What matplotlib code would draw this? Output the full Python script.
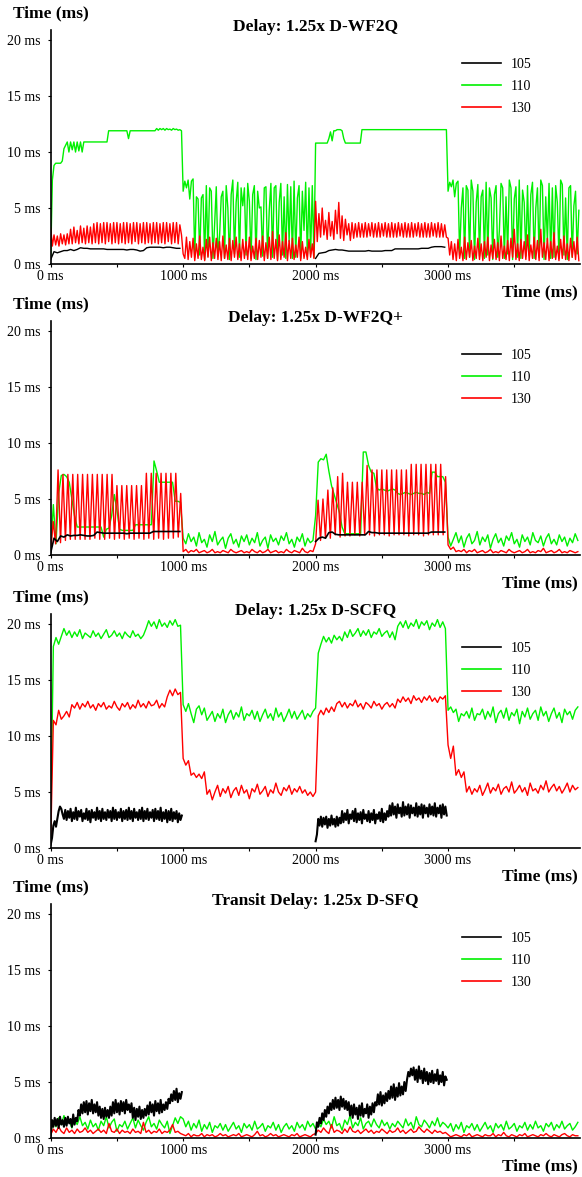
import numpy as np
import matplotlib
matplotlib.use("Agg")
import matplotlib.pyplot as plt

# ---- data: delay (ms) per flow, one list per 1000 ms block (None = flow idle)
flows = ["105", "110", "130"]
titles = ["Delay: 1.25x D-WF2Q", "Delay: 1.25x D-WF2Q+",
          "Delay: 1.25x D-SCFQ", "Transit Delay: 1.25x D-SFQ"]
xticks = [0, 1000, 2000, 3000]
xminor = [500, 1500, 2500, 3500]
yticks = [0, 5, 10, 15, 20]

# D-WF2Q
wf2q_105 = [
    [0.4, 1.1, 1.0, 1.1, 1.2, 1.2, 1.3, 1.2, 1.3, 1.45, 1.4, 1.4, 1.35, 1.35, 1.35, 1.35, 1.35, 1.3, 1.3, 1.3,
     1.3, 1.3, 1.3, 1.25, 1.3, 1.3, 1.25, 1.15, 1.2, 1.45, 1.5, 1.5, 1.5, 1.5, 1.45, 1.5, 1.5, 1.45, 1.4, 1.4],
    None,
    [0.5, 0.95, 1.0, 1.05, 1.2, 1.25, 1.3, 1.25, 1.25, 1.2, 1.15, 1.15, 1.15, 1.15, 1.15, 1.15, 1.2, 1.15, 1.15, 1.15,
     1.15, 1.2, 1.2, 1.2, 1.35, 1.35, 1.35, 1.35, 1.35, 1.35, 1.35, 1.35, 1.4, 1.4, 1.4, 1.5, 1.55, 1.55, 1.55, 1.5],
    None,
]
wf2q_110 = [
    [0.5, 7.5, 8.8, 9.0, 9.0, 9.0, 9.0, 9.2,
     10.3, 10.6, 10.9, 10.0, 10.9, 10.2, 10.9, 10.0, 10.9, 10.1, 10.9, 10.0, 10.9]
    + [10.9] * 14 + [11.9] * 12 + [11.2] + [11.9] * 16
    + [12.1, 11.95, 12.1, 12.0, 12.1, 11.95, 12.1, 12.0, 12.05, 11.95, 12.1, 12.0, 12.05, 11.95, 12.0, 11.9],
    [6.5, 7.4, 6.8, 7.5, 5.8, 7.4, 7.6, 0.6, 6.0, 5.8, 0.8, 5.9, 6.2, 0.4, 7.0, 0.7, 6.8, 6.5, 0.5, 3.5,
     6.9, 0.8, 2.5, 6.0, 6.5, 0.5, 7.0, 5.0, 0.4, 6.2, 7.5, 0.9, 5.5, 7.3, 0.6, 6.8, 5.2, 6.8, 0.8, 7.2,
     5.6, 0.5, 6.2, 7.0, 0.4, 6.5, 5.0, 5.1, 0.7, 6.8, 6.9, 0.5, 4.8, 7.2, 0.6, 6.8, 7.0, 0.4, 5.5, 7.2,
     0.8, 6.0, 0.5, 7.1, 2.0, 6.9, 0.5, 7.4, 0.6, 5.9, 7.0, 0.5, 6.5, 3.0, 7.3, 0.7, 6.8, 0.9, 7.0, 0.6],
    [10.8] * 8 + [11.2, 11.8, 11.0, 11.9] + [11.9, 12.0, 12.0, 12.0, 11.9, 11.2] + [10.8] * 10 + [12.0] * 52,
    [6.5, 7.3, 6.9, 7.5, 6.0, 7.2, 7.4, 0.8, 5.0, 6.8, 0.5, 7.0, 6.6, 0.6, 7.5, 6.5, 0.4, 5.5, 7.1, 0.7,
     6.0, 6.6, 0.5, 7.3, 0.8, 6.8, 5.9, 0.4, 6.2, 7.0, 0.6, 3.0, 7.2, 6.8, 0.5, 6.0, 0.9, 7.5, 6.8, 0.4,
     5.8, 6.9, 0.6, 7.5, 0.5, 6.6, 5.5, 0.7, 7.0, 0.8, 6.2, 7.3, 0.5, 5.0, 6.8, 0.6, 7.5, 7.0, 0.4, 6.0,
     2.0, 7.2, 0.5, 6.8, 0.6, 7.0, 5.5, 0.5, 7.5, 7.1, 0.8, 5.9, 0.4, 6.8, 7.0, 0.6, 5.2, 6.5, 0.9, 4.8],
]
wf2q_130 = [
    [3.2, 1.6, 2.6, 1.7, 2.5, 1.6, 2.7, 1.8, 2.6, 1.7, 2.7, 1.8, 3.1, 1.8, 3.3, 1.9, 3.0, 1.8, 3.4, 1.9,
     3.2, 1.8, 3.4, 1.9, 3.3, 1.8, 3.6, 1.9, 3.7, 1.8, 3.6, 1.9, 3.7, 1.8, 3.7, 2.0, 3.6, 1.8, 3.7, 1.9,
     3.7, 1.8, 3.6, 1.9, 3.7, 1.8, 3.7, 1.9, 3.6, 1.8, 3.7, 2.0, 3.7, 1.8, 3.6, 1.9, 3.7, 1.8, 3.7, 1.9,
     3.6, 1.8, 3.7, 1.9, 3.7, 1.8, 3.6, 1.9, 3.7, 1.8, 3.7, 2.0, 3.6, 1.8, 3.7, 1.9, 3.7, 1.8, 3.5, 2.6],
    [0.9, 0.5, 2.4, 0.4, 2.0, 0.6, 2.3, 0.3, 1.8, 0.5, 2.5, 0.4, 1.5, 0.3, 2.2, 0.6, 2.4, 0.3, 1.9, 0.5,
     2.3, 0.4, 2.0, 0.3, 2.5, 0.5, 1.7, 0.4, 2.3, 0.3, 2.1, 0.6, 2.4, 0.4, 1.8, 0.3, 2.2, 0.5, 2.0, 0.4,
     2.4, 0.3, 1.6, 0.5, 2.3, 0.4, 2.1, 0.6, 2.5, 0.3, 1.9, 0.5, 2.4, 0.4, 2.9, 0.5, 2.2, 0.3, 2.6, 0.4,
     2.0, 0.6, 2.8, 0.3, 2.1, 0.5, 2.3, 0.4, 1.7, 0.6, 2.4, 0.3, 2.0, 0.5, 1.5, 0.4, 2.2, 0.6, 1.8, 0.5],
    [5.6, 2.0, 4.5, 2.4, 5.0, 2.6, 3.9, 2.2, 4.6, 2.5, 3.8, 2.2, 4.8, 2.7, 5.5, 2.3, 4.3, 2.1, 4.0, 2.6,
     3.6, 2.1, 3.7, 2.3, 3.6, 2.4, 3.7, 2.4, 3.6, 2.4, 3.7, 2.4, 3.6, 2.5, 3.7, 2.4, 3.6, 2.4, 3.7, 2.4,
     3.6, 2.5, 3.7, 2.4, 3.6, 2.4, 3.7, 2.4, 3.6, 2.4, 3.7, 2.5, 3.6, 2.4, 3.7, 2.4, 3.6, 2.4, 3.7, 2.4,
     3.6, 2.5, 3.7, 2.4, 3.6, 2.4, 3.7, 2.4, 3.6, 2.4, 3.7, 2.5, 3.6, 2.4, 3.7, 2.4, 3.6, 2.4, 3.5, 2.4],
    [2.3, 0.8, 2.0, 0.4, 1.8, 0.3, 2.2, 0.5, 1.5, 0.3, 2.4, 0.4, 1.9, 0.6, 2.1, 0.3, 1.6, 0.5, 2.3, 0.4,
     1.8, 0.3, 2.0, 0.6, 2.4, 0.3, 1.7, 0.5, 2.2, 0.4, 1.9, 0.3, 2.5, 0.5, 1.6, 0.4, 2.1, 0.3, 2.3, 0.6,
     3.1, 0.4, 1.8, 0.3, 2.2, 0.5, 2.0, 0.4, 2.6, 0.3, 1.7, 0.5, 2.4, 0.4, 2.1, 0.3, 3.1, 0.6, 1.9, 0.4,
     2.3, 0.3, 2.0, 0.5, 2.8, 0.4, 1.6, 0.3, 2.2, 0.5, 2.5, 0.4, 1.8, 0.3, 2.3, 0.6, 2.0, 0.4, 2.4, 0.3],
]

# D-WF2Q+
wf2qp_105 = [
    [0.2, 1.5, 1.2, 1.7, 1.6, 1.8, 1.7, 1.75, 1.75, 1.8, 1.75, 1.7, 1.7, 1.75, 2.05, 2.0, 1.95, 1.95, 1.95, 1.95,
     1.95, 1.95, 1.95, 1.9, 1.95, 1.95, 1.95, 1.95, 1.95, 1.95, 1.95, 2.1, 2.1, 2.1, 2.1, 2.1, 2.1, 2.1, 2.1, 2.1],
    None,
    [1.2, 1.5, 1.6, 1.5, 2.0, 2.05, 1.85, 1.8, 1.8, 1.8, 1.8, 1.8, 1.8, 1.8, 1.8, 1.8, 2.1, 2.0, 2.0, 1.95,
     1.95, 1.95, 1.95, 1.95, 1.95, 1.95, 1.95, 1.95, 1.95, 1.95, 1.95, 1.95, 1.95, 1.95, 1.95, 2.05, 2.05, 2.05, 2.05, 2.05],
    None,
]
wf2qp_110 = [
    [0.5, 4.5, 1.0, 5.5, 7.1, 7.2, 7.0, 6.5, 5.0, 3.5, 2.5] + [2.5] * 9
    + [1.6, 2.3, 2.4, 3.5, 5.4, 4.0, 2.3] + [2.2] * 5 + [2.7] * 7
    + [8.4, 7.5] + [6.5] * 6 + [4.8, 4.8, 4.7],
    [1.5, 1.0, 1.9, 1.2, 1.6, 0.8, 2.0, 1.1, 1.4, 0.7, 1.8, 1.2, 2.1, 0.9, 1.3, 1.6, 0.6, 1.5, 1.9, 1.0,
     1.4, 0.7, 1.7, 1.2, 1.8, 0.9, 1.5, 1.1, 2.0, 0.8, 1.3, 1.6, 0.6, 1.8, 1.2, 1.5, 0.9, 1.7, 1.3, 2.0,
     1.0, 1.4, 0.7, 1.6, 1.2, 1.9, 0.8, 1.5, 1.1, 1.3],
    [3.5, 8.3, 8.6, 8.5, 9.0, 7.5, 6.2, 5.4, 4.6, 3.8, 2.5] + [1.9] * 7
    + [9.2, 9.2, 8.0, 7.4, 7.3, 6.0] + [5.8, 5.9, 5.8, 5.7, 5.8, 5.9, 5.8]
    + [5.5, 5.4, 5.5, 5.6, 5.5, 5.4, 5.5, 5.6, 5.5, 5.5, 5.4, 5.6, 5.5]
    + [7.4, 7.4, 7.0, 7.0, 7.0, 6.5],
    [1.6, 0.8, 1.4, 2.0, 1.1, 1.7, 0.7, 1.5, 1.9, 1.0, 1.3, 2.1, 0.9, 1.6, 1.2, 1.8, 0.6, 1.4, 1.9, 1.1,
     1.5, 0.8, 1.7, 1.3, 2.0, 1.0, 1.4, 0.7, 1.8, 1.2, 1.6, 0.9, 2.0, 1.3, 1.1, 1.7, 0.8, 1.5, 1.9, 1.0,
     1.4, 0.9, 1.8, 1.2, 1.6, 0.8, 1.5, 1.1, 1.9, 1.3],
]
wf2qp_130 = [
    [0.3, 3.0, 1.0, 7.6, 1.1, 7.2, 1.3, 7.2, 1.4, 7.2, 1.4, 7.2, 1.4, 7.2, 1.4, 7.2, 1.4, 7.2, 1.5, 7.2,
     1.4, 7.2, 1.4, 7.2, 1.5, 7.2, 1.4, 6.2, 1.5, 6.2, 1.4, 6.2, 1.5, 6.2, 1.4, 6.2, 1.5, 6.2, 1.4, 7.3,
     1.5, 7.3, 1.4, 7.3, 1.5, 7.3, 1.4, 7.3, 1.5, 7.3, 1.5, 7.3, 1.6, 5.5],
    [0.3, 0.5, 0.2, 0.4, 0.3, 0.5, 0.2, 0.3, 0.4, 0.2, 0.3, 0.5, 0.2, 0.3, 0.2, 0.4, 0.3, 0.2, 0.5, 0.3,
     0.2, 0.3, 0.4, 0.2, 0.3, 0.2, 0.5, 0.3, 0.2, 0.4, 0.2, 0.3, 0.5, 0.2, 0.3, 0.4, 0.2, 0.3, 0.2, 0.5,
     0.3, 0.2, 0.4, 0.3, 0.2, 0.6, 0.3, 0.2, 0.4, 0.3],
    [1.0, 4.9, 1.3, 5.0, 1.6, 5.8, 1.5, 6.0, 1.8, 7.0, 1.6, 7.3, 1.7, 6.5, 1.7, 6.5, 1.8, 6.5, 1.7, 6.5,
     1.8, 8.0, 1.8, 7.6, 1.7, 7.6, 1.8, 7.6, 1.8, 7.6, 1.7, 7.6, 1.8, 7.6, 1.8, 7.6, 1.8, 7.6, 1.7, 8.1,
     1.8, 8.1, 1.8, 8.1, 1.7, 8.1, 1.8, 8.1, 1.8, 8.1, 1.8, 8.1, 1.8, 7.0],
    [0.9, 0.5, 0.7, 0.3, 0.4, 0.3, 0.5, 0.2, 0.4, 0.3, 0.5, 0.2, 0.3, 0.4, 0.2, 0.3, 0.5, 0.2, 0.3, 0.2,
     0.4, 0.3, 0.2, 0.5, 0.3, 0.2, 0.3, 0.4, 0.2, 0.3, 0.5, 0.2, 0.3, 0.2, 0.4, 0.3, 0.6, 0.2, 0.3, 0.4,
     0.2, 0.3, 0.5, 0.2, 0.3, 0.2, 0.4, 0.3, 0.2, 0.3],
]

# D-SCFQ
scfq_105 = [
    [0.3, 0.9, 2.0, 2.4, 1.9, 2.6, 3.3, 3.7, 3.5, 3.0,
     2.6, 3.4, 2.5, 3.3, 2.7, 3.5, 2.4, 3.2, 2.6, 3.6, 2.5, 3.3, 2.8, 3.4, 2.4, 3.1, 2.6, 3.5, 2.5, 3.3,
     2.3, 3.4, 2.7, 3.2, 2.5, 3.6, 2.6, 3.3, 2.4, 3.5, 2.6, 3.2, 2.5, 3.4, 2.7, 3.3, 2.4, 3.6, 2.6, 3.4,
     2.5, 3.2, 2.7, 3.5, 2.4, 3.3, 2.6, 3.4, 2.5, 3.6, 2.6, 3.3, 2.4, 3.5, 2.7, 3.2, 2.5, 3.4, 2.6, 3.6,
     2.4, 3.3, 2.6, 3.5, 2.5, 3.2, 2.7, 3.4, 2.4, 3.5, 2.6, 3.3, 2.5, 3.6, 2.4, 3.2, 2.6, 3.4, 2.3, 3.3,
     2.5, 3.5, 2.4, 3.2, 2.6, 3.3, 2.3, 3.1, 2.5, 2.9],
    None,
    [0.6, 1.2, 2.6, 2.0, 2.8,
     1.9, 2.7, 2.1, 2.8, 1.8, 2.6, 2.0, 2.9, 2.1, 2.6, 1.9, 2.8, 2.0, 2.7, 2.2,
     3.3, 2.3, 3.1, 2.5, 3.4, 2.2, 3.0, 2.6, 3.3, 2.4, 3.5, 2.3, 3.1, 2.5, 3.2, 2.2, 3.4, 2.6, 3.0, 2.4,
     3.3, 2.3, 3.1, 2.5, 3.4, 2.2, 3.0, 2.6, 3.2, 2.4, 3.5, 2.3, 3.1, 2.5, 3.3,
     2.8, 3.8, 2.9, 4.0, 3.0, 3.7, 2.7, 3.9, 3.1, 3.6, 2.8, 4.1, 2.9, 3.7, 3.0, 3.9, 2.7, 3.8, 3.1, 3.6,
     2.9, 4.0, 2.8, 3.7, 3.0, 3.9, 2.7, 3.8, 3.1, 3.6, 2.8, 3.9, 3.0, 3.7, 2.9, 4.0, 2.8, 3.6, 3.1, 3.8,
     2.7, 3.9, 3.0, 3.7, 2.9],
    None,
]
scfq_110 = [
    [2.0, 18.0, 18.8, 18.2, 18.9, 19.6, 19.0, 19.4, 18.8, 19.3, 18.9, 19.5, 18.7, 19.2, 19.0, 18.8, 19.4, 18.9, 19.2, 18.7,
     19.1, 19.5, 18.8, 19.0, 19.4, 18.9, 19.2, 18.7, 19.3, 19.0, 18.8, 19.4, 18.9, 19.1, 18.7, 19.0, 19.6, 20.3, 19.8, 20.2,
     19.6, 20.4, 19.8, 20.1, 19.7, 20.3, 19.9, 20.4, 19.8, 19.9],
    [12.8, 12.2, 12.9, 12.0, 11.2, 12.4, 12.7, 11.9, 12.5, 11.4, 11.8, 12.2, 11.3, 12.0, 11.6, 12.4, 11.2, 11.9, 12.3, 11.5,
     12.1, 11.7, 12.6, 11.4, 12.0, 11.8, 12.3, 11.5, 12.2, 11.3, 11.9, 12.4, 11.6, 12.0, 11.4, 12.5, 11.7, 12.1, 11.3, 11.8,
     12.4, 11.6, 12.2, 11.5, 11.9, 12.3, 11.5, 12.0, 11.7, 12.2],
    [12.5, 17.4, 18.2, 18.9, 18.4, 18.8, 18.3, 19.0, 18.6, 18.9, 18.5, 19.3, 18.8, 19.5, 18.9, 19.2, 19.6, 18.9, 19.4, 19.0,
     19.5, 18.8, 19.3, 19.1, 19.6, 18.9, 19.2, 19.4, 18.8, 19.3, 18.6, 19.8, 20.2, 19.7, 20.3, 19.6, 20.1, 19.8, 20.4, 19.6,
     20.2, 19.9, 20.3, 19.5, 20.1, 19.8, 20.4, 19.7, 20.2, 19.6],
    [12.3, 12.6, 12.1, 12.4, 11.3, 12.0, 11.8, 12.2, 11.6, 12.5, 11.4, 12.0, 11.9, 12.4, 11.5, 12.2, 11.7, 12.6, 11.2, 12.0,
     12.3, 11.6, 12.5, 11.4, 12.1, 11.8, 12.4, 11.1, 12.2, 11.7, 12.5, 11.5, 12.0, 12.3, 11.4, 12.6, 11.8, 12.2, 11.3, 12.0,
     12.5, 11.6, 12.1, 11.2, 12.4, 11.9, 12.2, 11.5, 12.3, 12.6],
]
scfq_130 = [
    [0.5, 11.4, 11.0, 12.3, 11.5, 11.8, 12.2, 11.7, 12.8, 12.5, 13.0, 12.4, 12.9, 12.6, 13.1, 12.5, 12.8, 12.3, 12.9, 12.6,
     13.0, 12.4, 12.7, 12.5, 13.1, 12.6, 12.3, 12.9, 12.6, 13.0, 12.4, 12.8, 12.5, 13.2, 12.6, 12.9, 12.5, 13.1, 12.7, 12.8,
     13.2, 12.5, 12.9, 12.6, 13.5, 14.1, 13.6, 14.2, 13.7, 13.9],
    [8.0, 7.4, 7.8, 6.5, 6.7, 6.3, 6.6, 6.2, 6.8, 4.8, 5.2, 4.3, 5.0, 5.6, 4.6, 5.3, 4.9, 5.5, 4.5, 5.1,
     5.4, 4.7, 5.6, 4.9, 5.2, 4.4, 5.3, 5.0, 5.7, 4.8, 5.1, 5.5, 4.6, 5.2, 4.9, 5.8, 5.0, 4.7, 5.4, 5.1,
     5.6, 4.8, 5.3, 5.0, 5.5, 4.9, 5.2, 4.7, 5.0, 4.6],
    [5.0, 11.8, 12.3, 11.9, 12.5, 12.1, 12.6, 12.2, 12.9, 13.1, 12.6, 13.0, 12.5, 12.9, 12.7, 13.2, 12.6, 12.9, 12.4, 13.0,
     12.8, 12.5, 13.1, 12.7, 12.9, 12.4, 12.8, 13.0, 12.6, 12.9, 12.5, 13.3, 13.0, 13.5, 13.1, 13.4, 12.9, 13.6, 13.2, 13.4,
     13.0, 13.5, 13.2, 13.6, 13.1, 13.4, 13.0, 13.5, 13.3, 13.6],
    [9.2, 8.0, 9.1, 6.5, 7.0, 6.3, 6.8, 5.0, 5.5, 4.8, 5.3, 5.0, 5.6, 4.7, 5.2, 5.8, 4.9, 5.4, 5.1, 5.7,
     4.8, 5.3, 5.5, 5.0, 5.9, 4.9, 5.2, 5.6, 5.0, 5.4, 4.7, 5.8, 5.1, 5.3, 4.9, 5.6, 5.2, 6.0, 5.0, 5.4,
     5.7, 5.1, 5.5, 4.9, 5.3, 5.8, 5.0, 5.6, 5.2, 5.4],
]

# D-SFQ (transit delay)
sfq_105 = [
    [0.2, 1.6, 1.0, 1.8, 1.1, 1.7, 0.9, 1.9, 1.2, 1.6, 1.0, 1.8, 1.1, 1.9, 1.3, 1.7, 1.0, 2.1, 1.2, 1.8,
     1.5, 2.5, 2.0, 3.0, 2.2, 3.2, 2.3, 3.3, 2.1, 3.1, 2.4, 3.4, 2.2, 3.0, 2.3, 3.2, 2.0,
     2.8, 1.8, 2.6, 1.7, 2.7, 1.9, 2.5, 1.8, 2.8, 2.0,
     3.2, 2.2, 3.4, 2.3, 3.1, 2.1, 3.3, 2.4, 3.2, 2.2, 3.4, 2.5, 3.0, 2.3, 3.1,
     1.8, 2.7, 1.6, 2.6, 1.9, 2.8, 1.7, 2.5, 1.8, 2.6, 2.0,
     2.9, 2.1, 3.2, 2.3, 3.0, 2.0, 3.3, 2.4, 3.1, 2.2, 3.4, 2.3, 3.0, 2.5, 3.2, 2.6, 3.5,
     3.1, 3.9, 3.3, 4.2, 3.4, 4.4, 3.2, 4.0, 3.5, 4.1],
    None,
    [0.3, 1.4, 1.0, 1.8, 1.3, 2.2, 1.6, 2.5, 1.9, 2.8, 2.2, 3.1, 2.5, 3.4,
     2.6, 3.6, 2.7, 3.4, 2.5, 3.7, 2.8, 3.5, 2.6, 3.3, 2.5, 3.2,
     2.0, 2.9, 1.8, 3.0, 2.1, 2.7, 1.7, 2.9, 2.0, 3.1, 1.9, 2.6, 2.2, 3.0, 1.8, 2.8, 2.1, 3.1, 2.3, 3.2,
     2.9, 3.9, 3.0, 4.1, 2.9, 3.8, 3.1, 4.0, 3.3, 4.2,
     3.5, 4.6, 3.6, 4.8, 3.4, 4.5, 3.7, 4.9, 3.8, 4.6, 3.9, 5.0, 4.2,
     5.2, 5.9, 5.5, 6.2, 5.6,
     6.3, 5.2, 6.1, 5.0, 6.4, 5.3, 6.0, 4.9, 6.2, 5.1, 5.9,
     4.8, 5.8, 5.0, 6.0, 4.9, 5.7, 5.1, 6.1, 4.8, 5.6, 5.0, 5.9, 4.7, 5.5, 5.2],
    None,
]
sfq_110 = [
    [0.5, 1.5, 1.0, 1.8, 1.2, 2.0, 1.3, 1.6, 0.9, 1.7, 1.2, 1.9, 1.1, 1.4, 0.8, 1.6, 1.0, 1.3, 0.7, 1.5,
     1.1, 1.9, 0.9, 1.4, 1.7, 0.6, 1.2, 1.0, 1.5, 0.8, 1.3, 1.8, 0.9, 1.6, 1.1, 0.7, 1.4, 1.9, 1.0, 1.3,
     0.8, 1.6, 1.2, 0.9, 1.5, 0.4, 1.1, 1.8, 1.3, 1.9],
    [1.7, 1.0, 1.5, 0.7, 1.3, 0.9, 1.6, 0.6, 1.2, 0.8, 1.4, 0.5, 1.1, 0.9, 1.3, 0.7, 1.2, 0.6, 1.0, 1.4,
     0.8, 1.1, 0.5, 1.3, 0.9, 1.2, 0.7, 1.5, 0.8, 1.0, 1.3, 0.6, 1.1, 0.9, 1.4, 0.7, 1.2, 0.5, 1.0, 1.3,
     0.8, 1.1, 0.6, 1.4, 0.9, 1.2, 0.7, 1.5, 1.0, 1.3],
    [0.8, 1.4, 1.0, 1.7, 1.2, 1.5, 0.9, 1.9, 1.1, 1.3, 0.7, 1.6, 1.2, 2.0, 0.9, 1.4, 1.1, 1.8, 0.8, 1.3,
     1.5, 1.0, 1.7, 1.2, 0.9, 1.6, 1.1, 1.4, 0.8, 1.3, 1.0, 1.5, 1.2, 0.9, 1.7, 1.1, 1.4, 0.8, 1.9, 1.2,
     1.0, 1.6, 1.3, 0.9, 1.5, 1.1, 1.8, 1.0, 1.4, 1.2],
    [0.9, 1.3, 0.6, 1.2, 0.8, 1.4, 0.5, 1.1, 0.9, 1.3, 0.7, 1.2, 0.6, 1.0, 1.4, 0.8, 1.1, 0.5, 1.3, 0.9,
     1.2, 0.7, 1.5, 0.8, 1.0, 1.3, 0.6, 1.1, 0.9, 1.4, 0.7, 1.2, 0.8, 1.5, 0.9, 1.1, 0.6, 1.3, 1.0, 1.4,
     0.7, 1.2, 0.9, 1.5, 0.8, 1.1, 1.3, 0.7, 1.0, 1.4],
]
sfq_130 = [
    [0.3, 0.8, 0.5, 1.0, 0.6, 0.4, 0.9, 0.5, 0.7, 0.4, 0.8, 0.5, 0.6, 0.9, 0.5, 0.7, 0.4, 0.6, 0.8, 0.5,
     0.7, 0.4, 1.3, 0.6, 0.5, 0.8, 0.4, 0.7, 0.5, 0.6, 0.4, 0.8, 0.5, 0.6, 0.4, 1.4, 0.5, 0.7, 0.4, 0.6,
     0.5, 0.8, 0.4, 0.6, 0.5, 0.7, 1.2, 0.5, 0.6, 0.4],
    [0.3, 0.2, 0.4, 0.1, 0.3, 0.2, 0.2, 0.4, 0.1, 0.3, 0.2, 0.3, 0.1, 0.2, 0.4, 0.2, 0.3, 0.1, 0.2, 0.3,
     0.2, 0.4, 0.1, 0.2, 0.3, 0.2, 0.1, 0.3, 0.6, 0.2, 0.3, 0.1, 0.2, 0.4, 0.2, 0.3, 0.1, 0.2, 0.3, 0.2,
     0.1, 0.3, 0.2, 0.4, 0.1, 0.2, 0.3, 0.2, 0.1, 0.3],
    [0.4, 0.7, 0.5, 0.9, 0.6, 0.4, 1.2, 0.5, 0.7, 0.6, 0.4, 0.8, 0.5, 1.0, 0.6, 0.5, 0.7, 0.4, 0.6, 0.8,
     0.5, 0.7, 0.4, 0.6, 0.5, 0.8, 0.6, 0.4, 0.7, 0.5, 0.6, 0.9, 0.5, 0.7, 0.4, 0.6, 0.8, 0.5, 0.6, 1.0,
     0.7, 0.5, 0.8, 0.6, 0.4, 0.7, 0.5, 0.6, 0.4, 0.5],
    [0.3, 0.1, 0.2, 0.3, 0.2, 0.1, 0.3, 0.2, 0.4, 0.1, 0.2, 0.3, 0.2, 0.1, 0.3, 0.2, 0.2, 0.4, 0.1, 0.3,
     0.2, 0.5, 0.2, 0.1, 0.3, 0.2, 0.1, 0.3, 0.2, 0.4, 0.1, 0.2, 0.3, 0.2, 0.1, 0.3, 0.2, 0.4, 0.2, 0.1,
     0.3, 0.2, 0.1, 0.3, 0.4, 0.2, 0.1, 0.3, 0.2, 0.2],
]

panels = [
    (wf2q_105, wf2q_110, wf2q_130),
    (wf2qp_105, wf2qp_110, wf2qp_130),
    (scfq_105, scfq_110, scfq_130),
    (sfq_105, sfq_110, sfq_130),
]
colors = ["#000000", "#00f000", "#ff0000"]
black_width = [1.0, 1.2, 1.5, 1.5]   # dense 105 traces look like thick bands

BLOCK_MS = 1000.0


def build(blocks):
    # samples of each block are spread evenly over its 1000 ms
    ts, vs = [], []
    for k, blk in enumerate(blocks):
        if blk is None:
            ts.append([k * BLOCK_MS])
            vs.append([np.nan])
            continue
        n = len(blk)
        ts.append(k * BLOCK_MS + np.arange(n) * BLOCK_MS / n)
        vs.append(blk)
    return np.concatenate(ts), np.concatenate(vs)


plt.rcParams["font.family"] = "serif"
plt.rcParams["font.serif"] = ["Liberation Serif", "DejaVu Serif"]

W, H = 582, 1177
fig = plt.figure(figsize=(W / 100, H / 100), dpi=100)

bottoms = [264, 555, 848, 1138]   # pixel row of the 0 ms line
left_px, right_px, height_px = 50.7, 580.5, 234

for p, (title, series, b) in enumerate(zip(titles, panels, bottoms)):
    ax = fig.add_axes([left_px / W, (H - b) / H, (right_px - left_px) / W, height_px / H])
    lines = {}
    for idx in (1, 2, 0):   # black drawn on top
        t, v = build(series[idx])
        lw = black_width[p] if idx == 0 else 1.0
        lines[idx], = ax.plot(t, v, color=colors[idx], lw=lw)
    ax.set_xlim(0, 4000)
    ax.set_ylim(0, 20.9)
    ax.set_xticks(xticks)
    ax.set_xticklabels([f"{x} ms" for x in xticks])
    ax.set_xticks(xminor, minor=True)
    ax.set_yticks(yticks)
    ax.set_yticklabels([f"{y} ms" for y in yticks])
    ax.tick_params(axis="both", which="both", direction="out", length=2, width=0.8, labelsize=10)
    ax.tick_params(axis="x", pad=2)
    ax.tick_params(axis="y", pad=5)
    for s in ("top", "right"):
        ax.spines[s].set_visible(False)
    for s in ("left", "bottom"):
        ax.spines[s].set_linewidth(1.2)

    from matplotlib.lines import Line2D
    handles = [Line2D([], [], color=c, lw=1.2) for c in colors]
    ax.legend(handles, flows, loc="upper left",
              bbox_to_anchor=(0.776, 0.882), frameon=False, fontsize=10,
              handlelength=2.8, handletextpad=0.7, labelspacing=0.67,
              borderpad=0, borderaxespad=0)

    fig.text(13 / W, 1 - (b - 251) / H, "Time (ms)", fontsize=12.5, fontweight="bold",
             ha="left", va="center")
    fig.text((left_px + right_px) / 2 / W, 1 - (b - 237) / H, title, fontsize=12.5,
             fontweight="bold", ha="center", va="center")
    fig.text(578 / W, 1 - (b + 28) / H, "Time (ms)", fontsize=12.5, fontweight="bold",
             ha="right", va="center")

fig.savefig("out.png", dpi=100)
